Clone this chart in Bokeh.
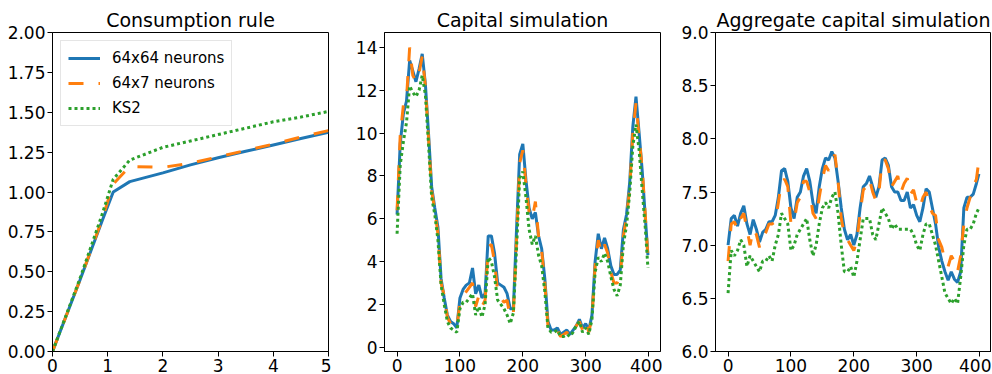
from bokeh.plotting import figure
from bokeh.layouts import row
from bokeh.models import FixedTicker, PrintfTickFormatter, Range1d
from bokeh.embed import file_html
from bokeh.resources import INLINE

# ---------------- data ----------------
labels = ["64x64 neurons", "64x7 neurons", "KS2"]

# Consumption rule
k_grid = [0, 0.5, 0.9, 1.1, 1.4, 2.0, 2.5, 3.0, 3.5, 4.0, 4.5, 5.0]
c_64x64 = [0, 0.45, 0.82, 1.00, 1.065, 1.12, 1.17, 1.215, 1.255, 1.295, 1.335, 1.375]
c_64x7 = [0, 0.45, 0.83, 1.05, 1.16, 1.155, 1.18, 1.22, 1.26, 1.30, 1.345, 1.385]
c_ks2 = [0, 0.46, 0.86, 1.08, 1.20, 1.28, 1.32, 1.36, 1.40, 1.44, 1.47, 1.505]

# time index for simulations
t_sim = list(range(0, 400, 5)) + [399]

# Capital simulation
k_64x64 = [6.2, 9.5, 10.9, 11.5, 13.4, 12.9, 12.4, 13.0, 13.7, 12.3,
           10.0, 7.5, 6.5, 5.6, 3.2, 2.3, 1.5, 1.2, 1.1, 0.9,
           2.3, 2.7, 2.9, 3.0, 3.7, 2.5, 2.9, 2.3, 2.5, 5.2,
           5.2, 4.4, 3.0, 2.9, 2.8, 2.5, 1.8, 1.8, 5.5, 9.0,
           9.5, 7.8, 6.5, 6.0, 6.3, 5.2, 4.6, 3.2, 1.2, 0.8,
           0.8, 0.9, 0.6, 0.7, 0.8, 0.6, 0.8, 1.0, 1.3, 0.9,
           1.1, 0.8, 1.5, 4.0, 5.3, 4.6, 5.1, 4.6, 3.8, 3.4,
           3.4, 3.6, 5.5, 6.2, 7.7, 10.3, 11.7, 10.0, 8.2, 6.0,
           4.3]
k_64x7 = [6.4, 9.9, 11.3, 11.6, 14.0, 12.7, 12.4, 12.8, 13.6, 12.2,
          9.8, 7.3, 6.4, 5.3, 3.0, 2.4, 1.4, 1.1, 1.0, 0.9,
          2.1, 2.4, 2.6, 2.8, 3.0, 1.9, 2.4, 1.9, 2.2, 4.7,
          4.8, 4.0, 2.6, 2.3, 2.1, 2.2, 1.4, 1.6, 5.0, 8.6,
          9.2, 7.6, 6.3, 6.0, 6.8, 5.2, 4.5, 3.0, 1.0, 0.7,
          0.7, 0.8, 0.5, 0.6, 0.7, 0.5, 0.7, 1.0, 1.2, 0.8,
          1.2, 0.7, 1.4, 3.8, 5.0, 4.4, 4.8, 4.4, 3.5, 3.0,
          3.0, 3.3, 5.2, 6.1, 7.4, 10.0, 11.4, 9.8, 8.3, 6.1,
          4.2]
k_ks2 = [5.3, 8.5, 9.6, 10.5, 12.2, 11.9, 11.7, 12.0, 12.7, 11.8,
         9.5, 7.0, 6.2, 5.0, 2.9, 2.0, 1.2, 0.9, 0.8, 0.7,
         1.8, 2.1, 2.1, 2.3, 2.5, 1.5, 1.9, 1.4, 2.0, 4.2,
         4.0, 3.3, 2.2, 2.0, 1.8, 1.5, 1.1, 1.6, 4.6, 7.9,
         8.2, 7.0, 5.5, 4.8, 5.2, 4.3, 3.8, 2.6, 0.9, 0.7,
         0.7, 0.8, 0.5, 0.5, 0.6, 0.5, 0.7, 1.0, 1.2, 0.7,
         0.9, 0.6, 1.3, 3.5, 4.2, 4.0, 4.4, 4.0, 3.3, 2.7,
         2.4, 2.9, 4.8, 5.7, 7.2, 9.4, 10.4, 9.2, 7.3, 5.5,
         3.7]

# Aggregate capital simulation
K_64x64 = [7.00, 7.25, 7.28, 7.18, 7.30, 7.37, 7.20, 7.10, 7.24, 7.15,
           7.03, 7.12, 7.15, 7.22, 7.22, 7.28, 7.45, 7.70, 7.72, 7.60,
           7.35, 7.25, 7.45, 7.50, 7.65, 7.72, 7.60, 7.40, 7.30, 7.55,
           7.72, 7.82, 7.80, 7.88, 7.82, 7.60, 7.35, 7.15, 7.05, 7.10,
           7.00, 7.10, 7.35, 7.55, 7.58, 7.65, 7.55, 7.45, 7.55, 7.80,
           7.82, 7.75, 7.55, 7.50, 7.50, 7.42, 7.42, 7.50, 7.35, 7.38,
           7.28, 7.22, 7.35, 7.53, 7.50, 7.35, 7.20, 6.98, 6.85, 6.75,
           6.67, 6.75, 6.68, 6.65, 6.75, 7.35, 7.45, 7.45, 7.48, 7.58,
           7.67]
K_64x7 = [6.85, 7.20, 7.22, 7.15, 7.25, 7.30, 7.15, 7.00, 7.15, 7.10,
          6.98, 7.08, 7.12, 7.20, 7.20, 7.22, 7.40, 7.60, 7.62, 7.55,
          7.20, 7.22, 7.40, 7.45, 7.60, 7.60, 7.50, 7.30, 7.25, 7.45,
          7.62, 7.75, 7.70, 7.80, 7.85, 7.60, 7.25, 7.10, 7.05, 7.00,
          6.95, 7.05, 7.30, 7.52, 7.55, 7.62, 7.50, 7.42, 7.50, 7.80,
          7.80, 7.72, 7.55, 7.60, 7.65, 7.50, 7.58, 7.63, 7.48, 7.52,
          7.40, 7.35, 7.45, 7.50, 7.38, 7.30, 7.28, 7.05, 6.98, 6.85,
          6.80, 6.90, 6.85, 6.75, 6.90, 7.20, 7.35, 7.45, 7.55, 7.62,
          7.80]
K_ks2 = [6.55, 6.95, 6.90, 6.95, 7.05, 7.00, 6.80, 6.90, 6.85, 6.80,
         6.75, 6.85, 6.85, 6.90, 6.85, 7.00, 7.10, 7.30, 7.25, 7.20,
         6.95, 7.00, 7.10, 7.15, 7.20, 7.25, 7.05, 6.90, 7.00, 7.20,
         7.35, 7.40, 7.35, 7.45, 7.50, 7.30, 7.00, 6.75, 6.75, 6.80,
         6.70, 6.85, 7.05, 7.25, 7.25, 7.25, 7.10, 7.05, 7.20, 7.35,
         7.30, 7.25, 7.15, 7.20, 7.15, 7.15, 7.15, 7.15, 7.15, 7.10,
         7.00, 6.95, 7.10, 7.20, 7.20, 7.10, 7.00, 6.85, 6.70, 6.55,
         6.50, 6.45, 6.50, 6.45, 6.70, 7.00, 7.15, 7.15, 7.20, 7.30,
         7.35]

y1_ticks = [0, 0.25, 0.5, 0.75, 1.0, 1.25, 1.5, 1.75, 2.0]
x1_ticks = [0, 1, 2, 3, 4, 5]
y2_ticks = [0, 2, 4, 6, 8, 10, 12, 14]
y3_ticks = [6.0, 6.5, 7.0, 7.5, 8.0, 8.5, 9.0]
xt_ticks = [0, 100, 200, 300, 400]

# ---------------- style ----------------
BLUE, ORANGE, GREEN = "#1f77b4", "#ff7f0e", "#2ca02c"
FONT = "DejaVu Sans"
LW = 3
H = 374


def make_fig(title, width, left, right, xr, yr, xt, yt, yfmt):
    p = figure(width=width, height=H, x_range=Range1d(*xr), y_range=Range1d(*yr),
               output_backend="svg", toolbar_location=None, title=title,
               min_border_left=left, min_border_right=right,
               min_border_top=32, min_border_bottom=20)
    p.background_fill_color = "white"
    p.border_fill_color = "white"
    p.outline_line_color = "black"
    p.outline_line_width = 1
    p.xgrid.visible = False
    p.ygrid.visible = False
    p.title.text_font = FONT
    p.title.text_font_size = "19px"
    p.title.text_font_style = "normal"
    p.title.text_color = "black"
    p.title.align = "center"
    p.title.standoff = 4
    for ax in (p.xaxis[0], p.yaxis[0]):
        ax.axis_line_color = "black"
        ax.major_tick_line_color = "black"
        ax.major_tick_out = 5
        ax.major_tick_in = 0
        ax.minor_tick_line_color = None
        ax.major_label_text_font = FONT
        ax.major_label_text_font_size = "17px"
        ax.major_label_text_color = "black"
        ax.major_label_standoff = 2
    p.xaxis[0].ticker = FixedTicker(ticks=xt)
    p.yaxis[0].ticker = FixedTicker(ticks=yt)
    if yfmt:
        p.yaxis[0].formatter = PrintfTickFormatter(format=yfmt)
    return p


def draw(p, x, ys, legend=False):
    styles = [(BLUE, None), (ORANGE, "15 15"), (GREEN, "3 3")]
    for y, (c, d), lab in zip(ys, styles, labels):
        kw = dict(line_color=c, line_width=LW)
        if d:
            kw["line_dash"] = d
        if legend:
            kw["legend_label"] = lab
        p.line(x, y, **kw)


p1 = make_fig("Consumption rule", 331, 52, 3, (0, 5), (0, 2), x1_ticks, y1_ticks, "%.2f")
draw(p1, k_grid, [c_64x64, c_64x7, c_ks2], legend=True)
lg = p1.legend[0]
lg.location = "top_left"
lg.margin = 8
lg.padding = 7
lg.spacing = 5
lg.glyph_width = 32
lg.glyph_height = 20
lg.label_height = 20
lg.label_standoff = 12
lg.label_text_font = FONT
lg.label_text_font_size = "15px"
lg.label_text_color = "black"
lg.border_line_color = "#cccccc"
lg.border_line_width = 1
lg.background_fill_alpha = 0.8

p2 = make_fig("Capital simulation", 331, 53, 2, (-20, 419), (-0.2, 14.7), xt_ticks, y2_ticks, None)
draw(p2, t_sim, [k_64x64, k_64x7, k_ks2])

p3 = make_fig("Aggregate capital simulation", 329, 53, 0, (-20, 419), (6, 9), xt_ticks, y3_ticks, "%.1f")
draw(p3, t_sim, [K_64x64, K_64x7, K_ks2])

layout = row(p1, p2, p3, spacing=0)

open("out.html", "w").write(file_html(layout, INLINE))
